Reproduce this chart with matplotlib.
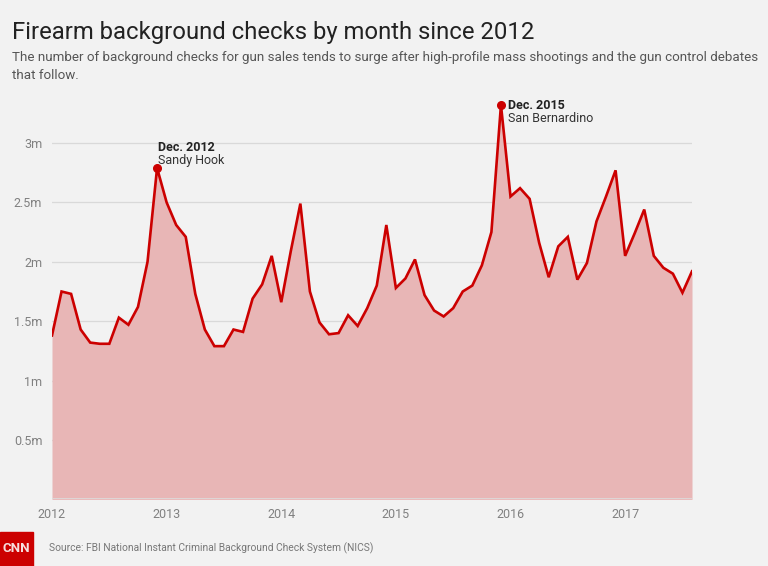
import numpy as np
import pandas as pd
import matplotlib.pyplot as plt
from matplotlib.patches import Rectangle

# monthly background checks, millions, Jan 2012 - Aug 2017
checks = [
    1.38, 1.75, 1.73, 1.43, 1.32, 1.31, 1.31, 1.53, 1.47, 1.62, 2.00, 2.79,  # 2012
    2.50, 2.31, 2.21, 1.73, 1.43, 1.29, 1.29, 1.43, 1.41, 1.69, 1.81, 2.05,  # 2013
    1.66, 2.09, 2.49, 1.75, 1.49, 1.39, 1.40, 1.55, 1.46, 1.61, 1.80, 2.31,  # 2014
    1.78, 1.86, 2.02, 1.72, 1.59, 1.54, 1.61, 1.75, 1.80, 1.97, 2.25, 3.32,  # 2015
    2.55, 2.62, 2.53, 2.16, 1.87, 2.13, 2.21, 1.85, 1.99, 2.34, 2.55, 2.77,  # 2016
    2.05, 2.24, 2.44, 2.05, 1.95, 1.90, 1.74, 1.92,                          # 2017
]
months = pd.date_range("2012-01-01", periods=len(checks), freq="MS")
idx = np.arange(len(checks))

year_ticks = [0, 12, 24, 36, 48, 60]
year_labels = ["2012", "2013", "2014", "2015", "2016", "2017"]
y_ticks = [0.5, 1, 1.5, 2, 2.5, 3]
y_labels = ["0.5m", "1m", "1.5m", "2m", "2.5m", "3m"]

# month index, headline, event, label offsets (points)
events = [(11, "Dec. 2012", "Sandy Hook", (1, 15)),
          (47, "Dec. 2015", "San Bernardino", (5, 0))]

bg = "#f2f2f2"
red = "#cc0000"
font = "Roboto"

fig = plt.figure(figsize=(7.68, 5.66), dpi=100, facecolor=bg)
ax = fig.add_axes([52 / 768, 1 - 499.4 / 566, 640 / 768, 403.9 / 566])
ax.set_facecolor(bg)

ax.fill_between(idx, checks, 0, color="#e8b6b6", lw=0, zorder=2)
ax.plot(idx, checks, color=red, lw=1.9, zorder=3, solid_joinstyle="miter")
ax.axhline(0, color="#dcdcdc", lw=1.2, zorder=2.5)

ax.set_xlim(0, len(checks) - 1)
ax.set_ylim(0, 3.4)
ax.set_yticks(y_ticks)
ax.set_yticklabels(y_labels)
ax.set_xticks(year_ticks)
ax.set_xticklabels(year_labels)
ax.grid(axis="y", color="#d9d9d9", lw=0.9, zorder=2.6)
ax.tick_params(length=0, colors="#808080", labelsize=9)
ax.tick_params(axis="y", pad=7)
ax.tick_params(axis="x", pad=6)
for lbl in ax.get_xticklabels() + ax.get_yticklabels():
    lbl.set_family(font)
for s in ax.spines.values():
    s.set_visible(False)

for i, head, sub, (dx, dy) in events:
    ax.plot(i, checks[i], "o", color=red, ms=5.5, zorder=4, clip_on=False)
    ax.annotate(head, (i, checks[i]), xytext=(dx, dy), textcoords="offset points",
                fontsize=9, fontweight="bold", color="#222222", family=font, va="center")
    ax.annotate(sub, (i, checks[i]), xytext=(dx, dy - 9.5), textcoords="offset points",
                fontsize=9, color="#333333", family=font, va="center")

fig.text(12 / 768, 1 - 32 / 566, "Firearm background checks by month since 2012",
         fontsize=17.2, color="#222222", family=font, va="center")
fig.text(12 / 768, 1 - 57 / 566,
         "The number of background checks for gun sales tends to surge after high-profile mass shootings and the gun control debates",
         fontsize=9.6, color="#555555", family=font, va="center")
fig.text(12 / 768, 1 - 75 / 566, "that follow.",
         fontsize=9.6, color="#555555", family=font, va="center")

# CNN badge and source line
fig.patches.append(Rectangle((0, 0), 33 / 768, 34 / 566, transform=fig.transFigure,
                             color=red, zorder=5))
fig.text(16.5 / 768, 1 - 549 / 566, "CNN", fontsize=9.5, fontweight="bold", color="#f6dede",
         family=font, ha="center", va="center", zorder=6)
fig.text(49 / 768, 1 - 548 / 566, "Source: FBI National Instant Criminal Background Check System (NICS)",
         fontsize=7.4, color="#777777", family=font, va="center")

fig.savefig("out.png", dpi=100, facecolor=bg)
